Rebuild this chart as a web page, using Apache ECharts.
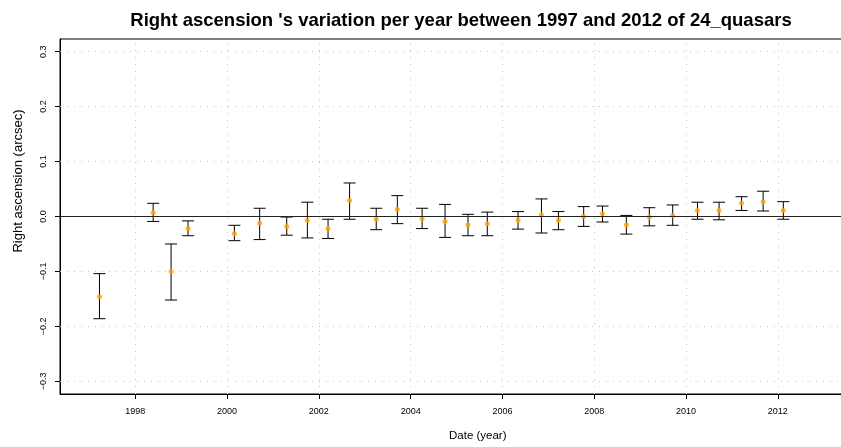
<!DOCTYPE html>
<html>
<head>
<meta charset="utf-8">
<script src="https://cdn.jsdelivr.net/npm/echarts@6/dist/echarts.min.js"></script>
<style>
  html, body { margin: 0; padding: 0; background: #fff; }
  #chart { width: 841px; height: 447px; }
</style>
</head>
<body>
<div id="chart"></div>
<script>
// Epoch of each yearly solution (decimal year)
const years = [1997.22, 1998.39, 1998.78, 1999.15, 2000.16, 2000.71, 2001.30, 2001.75,
  2002.20, 2002.67, 2003.25, 2003.71, 2004.25, 2004.75, 2005.25, 2005.67, 2006.34,
  2006.85, 2007.22, 2007.77, 2008.18, 2008.70, 2009.20, 2009.71, 2010.25, 2010.72,
  2011.21, 2011.68, 2012.12];
// Mean right ascension offset (arcsec)
const values = [-0.146, 0.007, -0.100, -0.022, -0.031, -0.012, -0.018, -0.007,
  -0.022, 0.029, -0.005, 0.013, -0.004, -0.009, -0.015, -0.013, -0.007,
  0.003, -0.007, 0.000, 0.005, -0.015, -0.001, 0.002, 0.011, 0.011,
  0.024, 0.027, 0.011];
// Lower and upper ends of the error bars (arcsec)
const lows = [-0.186, -0.009, -0.152, -0.035, -0.044, -0.042, -0.034, -0.039,
  -0.040, -0.005, -0.024, -0.013, -0.022, -0.038, -0.035, -0.035, -0.023,
  -0.030, -0.024, -0.018, -0.010, -0.032, -0.017, -0.016, -0.005, -0.006,
  0.011, 0.010, -0.005];
const highs = [-0.104, 0.024, -0.050, -0.008, -0.016, 0.015, -0.001, 0.026,
  -0.005, 0.061, 0.015, 0.038, 0.015, 0.022, 0.004, 0.008, 0.009,
  0.032, 0.009, 0.018, 0.019, 0.002, 0.016, 0.021, 0.026, 0.026,
  0.036, 0.046, 0.027];
// Axis tick values
const xTicks = [1998, 2000, 2002, 2004, 2006, 2008, 2010, 2012];
const yTicks = [-0.3, -0.2, -0.1, 0.0, 0.1, 0.2, 0.3];

const FONT = 'Liberation Sans, Arial, Helvetica, sans-serif';

const points = years.map((y, i) => [y, values[i]]);
const bars = years.map((y, i) => [y, lows[i], highs[i]]);

const dotted = { color: '#c4c4c4', width: 1, type: [1, 6] };

const gridLines = xTicks.map(v => ({ xAxis: v, lineStyle: dotted }))
  .concat(yTicks.map(v => ({ yAxis: v, lineStyle: dotted })));

const chart = echarts.init(document.getElementById('chart'), null, { renderer: 'canvas' });

chart.setOption({
  backgroundColor: '#ffffff',
  animation: false,
  title: {
    text: "Right ascension 's variation per year between 1997 and 2012 of 24_quasars",
    left: 456,
    top: 6,
    textAlign: 'center',
    textStyle: { fontFamily: FONT, fontSize: 18.5, fontWeight: 'bold', color: '#000' }
  },
  graphic: [
    {
      type: 'text',
      left: 449, top: 430,
      style: {
        text: 'Date (year)', fontFamily: FONT, fontSize: 11.5, fill: '#000',
        textAlign: 'center'
      },
      silent: true
    },
    {
      type: 'text',
      x: 18, y: 181,
      rotation: Math.PI / 2,
      style: {
        text: 'Right ascension (arcsec)', fontFamily: FONT, fontSize: 13, fill: '#000',
        align: 'center', verticalAlign: 'middle'
      },
      silent: true
    }
  ],
  grid: {
    left: 60, top: 39, width: 794, height: 355,
    outerBoundsMode: 'none',
    containLabel: false,
    show: true, borderColor: '#000', borderWidth: 1, backgroundColor: 'transparent'
  },
  xAxis: {
    type: 'value',
    min: 1996.36, max: 2013.66,
    axisLine: { show: true, onZero: false, lineStyle: { color: '#000', width: 1 } },
    axisTick: { show: true, length: 5, inside: false, customValues: xTicks, lineStyle: { color: '#000' } },
    axisLabel: {
      customValues: xTicks, margin: 13,
      fontFamily: FONT, fontSize: 9, color: '#000',
      formatter: v => String(v)
    },
    splitLine: { show: false }
  },
  yAxis: {
    type: 'value',
    min: -0.323, max: 0.323,
    axisLine: { show: true, onZero: false, lineStyle: { color: '#000', width: 1 } },
    axisTick: { show: true, length: 5, customValues: yTicks, lineStyle: { color: '#000' } },
    axisLabel: {
      customValues: yTicks, rotate: 90, margin: 12,
      fontFamily: FONT, fontSize: 9, color: '#000',
      formatter: v => {
        const s = Math.abs(v) < 1e-9 ? '0.0' : v.toFixed(1);
        return s.replace('-', '\u2212');
      }
    },
    splitLine: { show: false }
  },
  series: [
    {
      // dotted reference grid and the zero line
      type: 'line',
      data: [],
      silent: true,
      z: 1,
      markLine: {
        silent: true,
        symbol: ['none', 'none'],
        label: { show: false },
        animation: false,
        data: gridLines.concat([{ yAxis: 0, lineStyle: { color: '#222', width: 1, type: 'solid' } }])
      }
    },
    {
      type: 'custom',
      z: 3,
      data: bars,
      renderItem: function (params, api) {
        const x = api.value(0);
        const pLo = api.coord([x, api.value(1)]);
        const pHi = api.coord([x, api.value(2)]);
        const hw = 6;
        const st = { stroke: '#000', lineWidth: 1 };
        return {
          type: 'group',
          children: [
            { type: 'line', shape: { x1: pLo[0], y1: pLo[1], x2: pHi[0], y2: pHi[1] }, style: st },
            { type: 'line', shape: { x1: pLo[0] - hw, y1: pLo[1], x2: pLo[0] + hw, y2: pLo[1] }, style: st },
            { type: 'line', shape: { x1: pHi[0] - hw, y1: pHi[1], x2: pHi[0] + hw, y2: pHi[1] }, style: st }
          ]
        };
      }
    },
    {
      type: 'scatter',
      z: 4,
      data: points,
      symbol: 'circle',
      symbolSize: 5,
      itemStyle: { color: '#FFA500' }
    }
  ]
});
</script>
</body>
</html>
